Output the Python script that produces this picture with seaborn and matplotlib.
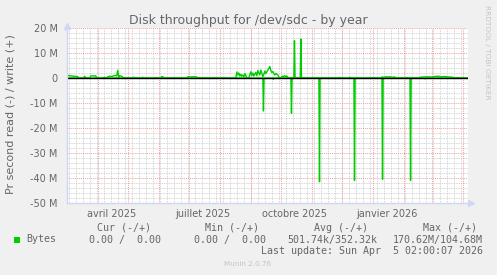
import numpy as np
import pandas as pd
import matplotlib
matplotlib.use("Agg")
import matplotlib.pyplot as plt
import seaborn as sns
from matplotlib.patches import Rectangle

# ---------------- data ----------------
title = "Disk throughput for /dev/sdc - by year"
ylabel = "Pr second read (-) / write (+)"

# x axis: days since 2025-03-01
month_start_days = [31, 61, 92, 122, 153, 184, 214, 245, 275, 306, 337, 365, 396]
month_label_days = [45, 136, 228, 320]
month_labels = ["avril 2025", "juillet 2025", "octobre 2025", "janvier 2026"]
y_ticks = [-50, -40, -30, -20, -10, 0, 10, 20]
y_tick_labels = ["-50 M", "-40 M", "-30 M", "-20 M", "-10 M", "0", "10 M", "20 M"]

# write (+) in MB/s
write_day = [0, 1, 2, 3, 4, 5, 6, 7, 8, 9, 10, 11, 12,
             17, 18, 19,
             23, 24, 25, 27, 29, 30,
             37, 38, 39,
             40, 41, 43, 45, 47, 49, 50, 51, 52, 53, 55, 56, 57,
             66, 67, 68,
             75, 76, 77,
             94, 95, 96, 97,
             120, 121, 124, 127, 130, 131,
             169, 170, 171, 172, 173, 174, 175, 176, 177, 178, 179, 180,
             182, 183, 184, 185, 186, 187, 188, 189, 190, 191, 192, 193, 194, 195, 196,
             197, 198, 199, 200, 201, 202, 203, 204, 205, 206, 207, 208, 209, 210, 211, 212, 213,
             214, 215, 216, 217, 218, 219, 220, 221, 222,
             227.0, 227.6, 228.2,
             233.4, 234.0, 234.6,
             272, 273, 274,
             282, 283, 284,
             314, 315, 317, 319, 321, 323, 325, 328, 329,
             342, 343, 344,
             352, 353, 356, 360, 364, 368, 372, 374, 378, 382, 386, 387,
             401]
write_mb = [1.2, 1.1, 0.9, 1.0, 0.8, 0.9, 0.7, 0.8, 0.6, 0.7, 0.5, 0.6, 0,
            0, 0.7, 0,
            0, 0.8, 0.9, 0.8, 0.9, 0,
            0, 0.3, 0,
            0, 0.5, 0.7, 0.6, 0.9, 1.0, 0.8, 3.1, 0.4, 0.9, 0.7, 0.3, 0,
            0, 0.3, 0,
            0, 0.3, 0,
            0, 0.6, 0.5, 0,
            0, 0.5, 0.4, 0.5, 0.4, 0,
            0, 2.4, 1.2, 2.0, 0.8, 1.5, 0.7, 1.2, 0.5, 1.8, 0.9, 0,
            0, 1.2, 2.5, 1.0, 2.0, 0.8, 1.5, 2.2, 0.9, 3.0, 2.0, 1.2, 3.2, 2.0, 0.5,
            1.5, 2.8, 1.8, 2.5, 3.2, 3.8, 4.6, 3.0, 2.2, 2.6, 1.8, 1.2, 1.8, 1.5, 1.2, 0.3, 0,
            0, 0.5, 0.8, 0.6, 0.9, 0.5, 0.8, 0.3, 0,
            0, 14.9, 0,
            0, 15.6, 0,
            0, 0.2, 0,
            0, 0.3, 0,
            0, 0.4, 0.3, 0.5, 0.4, 0.5, 0.3, 0.4, 0,
            0, 0.2, 0,
            0, 0.3, 0.4, 0.5, 0.4, 0.6, 0.7, 0.5, 0.6, 0.4, 0.3, 0,
            0]

# read (-) in MB/s
read_day = [0, 196.0, 196.6, 197.2, 206.0, 206.5, 207.0, 224.0, 224.6, 225.2,
            252.0, 252.6, 253.2, 287.0, 287.6, 288.2, 315.0, 315.6, 316.2,
            343.0, 343.6, 344.2, 357, 358, 359, 401]
read_mb = [0, 0, -13.2, 0, 0, -0.5, 0, 0, -14.1, 0,
           0, -41.5, 0, 0, -41.0, 0, 0, -40.5, 0,
           0, -41.0, 0, 0, -0.3, 0, 0]

legend_name = "Bytes"
col_heads = ["Cur (-/+)", "Min (-/+)", "Avg (-/+)", "Max (-/+)"]
col_vals = ["0.00 /  0.00", "0.00 /  0.00", "501.74k/352.32k", "170.62M/104.68M"]
last_update = "Last update: Sun Apr  5 02:00:07 2026"
version = "Munin 2.0.76"
side_text = "RRDTOOL / TOBI OETIKER"

df = pd.concat([
    pd.DataFrame({"day": write_day, "mb": write_mb, "dir": "write"}),
    pd.DataFrame({"day": read_day, "mb": read_mb, "dir": "read"}),
], ignore_index=True)

# ---------------- figure ----------------
W, H = 497, 275
sns.set_style("white")
plt.rcParams["font.family"] = ["DejaVu Sans"]
fig = plt.figure(figsize=(W / 100, H / 100), dpi=100, facecolor="#F0F0F0")

L, R, T, B = 66.7, 468.0, 28.0, 203.0
ax = fig.add_axes([L / W, 1 - B / H, (R - L) / W, (B - T) / H])
ax.set_facecolor("white")

FONT = "#666666"
AXISC = "#CFD6F8"
MGRID = "#F4A0A0"
GRID = "#C8C8C8"
GREEN = "#00CC00"

# grids
for d in np.arange(2, 402, 7):
    ax.axvline(d, color=GRID, lw=0.6, ls=(0, (1, 1)), zorder=0.5)
for v in range(-50, 21, 2):
    if v % 10 != 0:
        ax.axhline(v, color=GRID, lw=0.6, ls=(0, (1, 1)), zorder=0.5)
for d in month_start_days:
    ax.axvline(d, color=MGRID, lw=0.7, ls=(0, (1, 1)), zorder=0.6)
for v in y_ticks:
    ax.axhline(v, color=MGRID, lw=0.7, ls=(0, (1, 1)), zorder=0.6)

sns.lineplot(data=df, x="day", y="mb", hue="dir",
             palette={"write": GREEN, "read": GREEN},
             estimator=None, sort=False, legend=False, lw=1.0, ax=ax, zorder=2)

ax.axhline(0, color="black", lw=1.0, zorder=3)

ax.set_xlim(0, 401)
ax.set_ylim(-50, 20)
ax.set_xlabel("")
ax.set_ylabel("")

ax.set_xticks(month_label_days)
ax.set_xticklabels(month_labels)
ax.set_xticks(month_start_days, minor=True)
ax.set_yticks(y_ticks)
ax.set_yticklabels(y_tick_labels)
ax.tick_params(axis="x", which="major", length=0, pad=4.5, labelsize=7, labelcolor=FONT)
ax.tick_params(axis="x", which="minor", length=2.5, width=0.7, color=MGRID, direction="out")
ax.tick_params(axis="y", which="major", length=2, width=0.7, color=MGRID, pad=4.5,
               labelsize=7, labelcolor=FONT)

for s in ["top", "right"]:
    ax.spines[s].set_visible(False)
for s in ["left", "bottom"]:
    ax.spines[s].set_color(AXISC)
    ax.spines[s].set_linewidth(1.0)
    ax.spines[s].set_zorder(4)

# axis arrows
ax.plot([0], [1 + 2.5 / (B - T)], marker="^", ms=4.5, color=AXISC, mec=AXISC,
        transform=ax.transAxes, clip_on=False)
ax.plot([1 + 2.5 / (R - L)], [0], marker=">", ms=4.5, color=AXISC, mec=AXISC,
        transform=ax.transAxes, clip_on=False)

def fx(x):
    return x / W

def fy(y):
    return 1 - y / H

fig.text(fx(248), fy(24), title, ha="center", va="baseline", fontsize=9, color=FONT)
fig.text(fx(11), fy(114), ylabel, ha="center", va="center", rotation=90,
         fontsize=8, color=FONT)
fig.text(fx(487.5), fy(52), side_text, ha="center", va="center", rotation=270,
         fontsize=5.3, color="#C4C4C4")

MONO = "DejaVu Sans Mono"
fs = 7.2
head_right = [151, 259.3, 367.7, 476.7]
val_right = [161, 266, 377.7, 482.7]
for h, xr in zip(col_heads, head_right):
    fig.text(fx(xr), fy(228), h, ha="right", va="center", family=MONO, fontsize=fs, color=FONT)
for v, xr in zip(col_vals, val_right):
    fig.text(fx(xr), fy(239.5), v, ha="right", va="center", family=MONO, fontsize=fs, color=FONT)
fig.text(fx(26.7), fy(239.5), legend_name, ha="left", va="center", family=MONO,
         fontsize=fs, color=FONT)
fig.patches.append(Rectangle((fx(14), fy(242.5)), 6 / W, 6 / H, transform=fig.transFigure,
                             facecolor=GREEN, edgecolor="none"))
fig.text(fx(482.7), fy(251), last_update, ha="right", va="center", family=MONO,
         fontsize=fs, color=FONT)
fig.text(fx(248), fy(264), version, ha="center", va="center", fontsize=5.2, color="#C4C4C4")

fig.savefig("out.png", dpi=100, facecolor=fig.get_facecolor())
